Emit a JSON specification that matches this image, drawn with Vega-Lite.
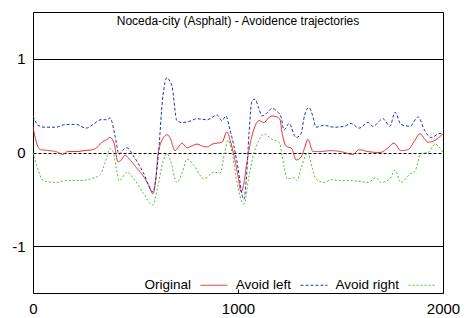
{
  "$schema": "https://vega.github.io/schema/vega-lite/v6.json",
  "width": 410,
  "height": 281,
  "autosize": "none",
  "padding": {"left": 33, "top": 12, "right": 23, "bottom": 25},
  "layer": [
    {
      "data": {"values": [
        {"s":"Original","x":0,"y":0.27},{"s":"Original","x":12,"y":0.15},{"s":"Original","x":24,"y":0.06},{"s":"Original","x":40,"y":0.03},{"s":"Original","x":80,"y":0.02},{"s":"Original","x":112,"y":0.01},{"s":"Original","x":146,"y":-0.02},{"s":"Original","x":170,"y":0.01},{"s":"Original","x":210,"y":0.01},{"s":"Original","x":250,"y":0.02},{"s":"Original","x":290,"y":0.03},{"s":"Original","x":315,"y":0.06},{"s":"Original","x":332,"y":0.1},{"s":"Original","x":361,"y":0.14},{"s":"Original","x":376,"y":0.16},{"s":"Original","x":395,"y":0.1},{"s":"Original","x":415,"y":-0.1},{"s":"Original","x":430,"y":-0.08},{"s":"Original","x":449,"y":-0.03},{"s":"Original","x":470,"y":-0.07},{"s":"Original","x":500,"y":-0.15},{"s":"Original","x":537,"y":-0.25},{"s":"Original","x":565,"y":-0.35},{"s":"Original","x":585,"y":-0.44},{"s":"Original","x":598,"y":-0.3},{"s":"Original","x":610,"y":-0.02},{"s":"Original","x":634,"y":0.15},{"s":"Original","x":654,"y":0.19},{"s":"Original","x":668,"y":0.16},{"s":"Original","x":693,"y":0.02},{"s":"Original","x":710,"y":0.06},{"s":"Original","x":727,"y":0.1},{"s":"Original","x":751,"y":0.05},{"s":"Original","x":775,"y":0.07},{"s":"Original","x":800,"y":0.09},{"s":"Original","x":825,"y":0.07},{"s":"Original","x":849,"y":0.06},{"s":"Original","x":875,"y":0.09},{"s":"Original","x":898,"y":0.1},{"s":"Original","x":922,"y":0.11},{"s":"Original","x":946,"y":0.22},{"s":"Original","x":963,"y":0.12},{"s":"Original","x":980,"y":-0.03},{"s":"Original","x":1000,"y":-0.25},{"s":"Original","x":1015,"y":-0.42},{"s":"Original","x":1024,"y":-0.38},{"s":"Original","x":1044,"y":-0.1},{"s":"Original","x":1060,"y":0.1},{"s":"Original","x":1078,"y":0.25},{"s":"Original","x":1102,"y":0.34},{"s":"Original","x":1127,"y":0.32},{"s":"Original","x":1145,"y":0.36},{"s":"Original","x":1166,"y":0.39},{"s":"Original","x":1190,"y":0.38},{"s":"Original","x":1205,"y":0.35},{"s":"Original","x":1215,"y":0.21},{"s":"Original","x":1234,"y":0.07},{"s":"Original","x":1263,"y":0.04},{"s":"Original","x":1283,"y":-0.08},{"s":"Original","x":1307,"y":-0.05},{"s":"Original","x":1325,"y":0.05},{"s":"Original","x":1341,"y":0.14},{"s":"Original","x":1366,"y":0.01},{"s":"Original","x":1400,"y":0.01},{"s":"Original","x":1454,"y":0.02},{"s":"Original","x":1500,"y":0.01},{"s":"Original","x":1561,"y":-0.02},{"s":"Original","x":1590,"y":0.03},{"s":"Original","x":1634,"y":0.01},{"s":"Original","x":1693,"y":0.0},{"s":"Original","x":1732,"y":0.05},{"s":"Original","x":1761,"y":0.1},{"s":"Original","x":1795,"y":0.02},{"s":"Original","x":1829,"y":0.03},{"s":"Original","x":1860,"y":0.12},{"s":"Original","x":1888,"y":0.2},{"s":"Original","x":1912,"y":0.14},{"s":"Original","x":1927,"y":0.11},{"s":"Original","x":1961,"y":0.13},{"s":"Original","x":1995,"y":0.19},{"s":"Original","x":2000,"y":0.2},
        {"s":"Avoid left","x":0,"y":0.39},{"s":"Avoid left","x":12,"y":0.33},{"s":"Avoid left","x":24,"y":0.29},{"s":"Avoid left","x":60,"y":0.27},{"s":"Avoid left","x":112,"y":0.27},{"s":"Avoid left","x":161,"y":0.3},{"s":"Avoid left","x":210,"y":0.3},{"s":"Avoid left","x":259,"y":0.26},{"s":"Avoid left","x":293,"y":0.3},{"s":"Avoid left","x":332,"y":0.35},{"s":"Avoid left","x":361,"y":0.35},{"s":"Avoid left","x":376,"y":0.37},{"s":"Avoid left","x":400,"y":0.18},{"s":"Avoid left","x":420,"y":-0.02},{"s":"Avoid left","x":440,"y":0.03},{"s":"Avoid left","x":459,"y":0.05},{"s":"Avoid left","x":488,"y":-0.03},{"s":"Avoid left","x":537,"y":-0.21},{"s":"Avoid left","x":585,"y":-0.42},{"s":"Avoid left","x":610,"y":-0.06},{"s":"Avoid left","x":634,"y":0.61},{"s":"Avoid left","x":654,"y":0.8},{"s":"Avoid left","x":668,"y":0.76},{"s":"Avoid left","x":678,"y":0.71},{"s":"Avoid left","x":702,"y":0.34},{"s":"Avoid left","x":727,"y":0.32},{"s":"Avoid left","x":760,"y":0.33},{"s":"Avoid left","x":800,"y":0.36},{"s":"Avoid left","x":849,"y":0.35},{"s":"Avoid left","x":898,"y":0.4},{"s":"Avoid left","x":922,"y":0.34},{"s":"Avoid left","x":941,"y":0.39},{"s":"Avoid left","x":960,"y":0.25},{"s":"Avoid left","x":980,"y":0.07},{"s":"Avoid left","x":995,"y":-0.1},{"s":"Avoid left","x":1029,"y":-0.5},{"s":"Avoid left","x":1040,"y":-0.3},{"s":"Avoid left","x":1054,"y":0.21},{"s":"Avoid left","x":1068,"y":0.55},{"s":"Avoid left","x":1083,"y":0.57},{"s":"Avoid left","x":1100,"y":0.48},{"s":"Avoid left","x":1117,"y":0.39},{"s":"Avoid left","x":1140,"y":0.42},{"s":"Avoid left","x":1166,"y":0.47},{"s":"Avoid left","x":1190,"y":0.44},{"s":"Avoid left","x":1210,"y":0.38},{"s":"Avoid left","x":1224,"y":0.24},{"s":"Avoid left","x":1249,"y":0.31},{"s":"Avoid left","x":1283,"y":0.16},{"s":"Avoid left","x":1307,"y":0.2},{"s":"Avoid left","x":1325,"y":0.4},{"s":"Avoid left","x":1346,"y":0.48},{"s":"Avoid left","x":1366,"y":0.38},{"s":"Avoid left","x":1380,"y":0.27},{"s":"Avoid left","x":1420,"y":0.29},{"s":"Avoid left","x":1468,"y":0.27},{"s":"Avoid left","x":1520,"y":0.28},{"s":"Avoid left","x":1551,"y":0.31},{"s":"Avoid left","x":1590,"y":0.26},{"s":"Avoid left","x":1634,"y":0.32},{"s":"Avoid left","x":1659,"y":0.28},{"s":"Avoid left","x":1707,"y":0.36},{"s":"Avoid left","x":1741,"y":0.28},{"s":"Avoid left","x":1766,"y":0.43},{"s":"Avoid left","x":1795,"y":0.3},{"s":"Avoid left","x":1839,"y":0.28},{"s":"Avoid left","x":1878,"y":0.38},{"s":"Avoid left","x":1912,"y":0.23},{"s":"Avoid left","x":1941,"y":0.16},{"s":"Avoid left","x":1980,"y":0.2},{"s":"Avoid left","x":2000,"y":0.21},
        {"s":"Avoid right","x":0,"y":0.0},{"s":"Avoid right","x":20,"y":-0.15},{"s":"Avoid right","x":49,"y":-0.3},{"s":"Avoid right","x":112,"y":-0.32},{"s":"Avoid right","x":161,"y":-0.3},{"s":"Avoid right","x":229,"y":-0.3},{"s":"Avoid right","x":283,"y":-0.28},{"s":"Avoid right","x":327,"y":-0.24},{"s":"Avoid right","x":350,"y":-0.12},{"s":"Avoid right","x":376,"y":0.04},{"s":"Avoid right","x":390,"y":0.01},{"s":"Avoid right","x":405,"y":-0.15},{"s":"Avoid right","x":420,"y":-0.3},{"s":"Avoid right","x":459,"y":-0.21},{"s":"Avoid right","x":488,"y":-0.27},{"s":"Avoid right","x":537,"y":-0.43},{"s":"Avoid right","x":585,"y":-0.56},{"s":"Avoid right","x":610,"y":-0.35},{"s":"Avoid right","x":634,"y":-0.1},{"s":"Avoid right","x":654,"y":-0.01},{"s":"Avoid right","x":668,"y":-0.07},{"s":"Avoid right","x":702,"y":-0.32},{"s":"Avoid right","x":730,"y":-0.2},{"s":"Avoid right","x":751,"y":-0.07},{"s":"Avoid right","x":785,"y":-0.14},{"s":"Avoid right","x":834,"y":-0.28},{"s":"Avoid right","x":883,"y":-0.21},{"s":"Avoid right","x":912,"y":-0.22},{"s":"Avoid right","x":935,"y":0.0},{"s":"Avoid right","x":951,"y":0.13},{"s":"Avoid right","x":975,"y":-0.05},{"s":"Avoid right","x":995,"y":-0.32},{"s":"Avoid right","x":1029,"y":-0.55},{"s":"Avoid right","x":1054,"y":-0.25},{"s":"Avoid right","x":1078,"y":0.0},{"s":"Avoid right","x":1102,"y":0.13},{"s":"Avoid right","x":1127,"y":0.2},{"s":"Avoid right","x":1166,"y":0.14},{"s":"Avoid right","x":1200,"y":0.11},{"s":"Avoid right","x":1224,"y":-0.14},{"s":"Avoid right","x":1239,"y":-0.28},{"s":"Avoid right","x":1273,"y":-0.27},{"s":"Avoid right","x":1288,"y":-0.3},{"s":"Avoid right","x":1307,"y":-0.17},{"s":"Avoid right","x":1341,"y":0.0},{"s":"Avoid right","x":1360,"y":-0.15},{"s":"Avoid right","x":1380,"y":-0.28},{"s":"Avoid right","x":1420,"y":-0.32},{"s":"Avoid right","x":1454,"y":-0.29},{"s":"Avoid right","x":1500,"y":-0.3},{"s":"Avoid right","x":1551,"y":-0.3},{"s":"Avoid right","x":1600,"y":-0.31},{"s":"Avoid right","x":1634,"y":-0.32},{"s":"Avoid right","x":1673,"y":-0.27},{"s":"Avoid right","x":1698,"y":-0.32},{"s":"Avoid right","x":1741,"y":-0.28},{"s":"Avoid right","x":1766,"y":-0.19},{"s":"Avoid right","x":1795,"y":-0.32},{"s":"Avoid right","x":1839,"y":-0.23},{"s":"Avoid right","x":1863,"y":-0.2},{"s":"Avoid right","x":1893,"y":-0.01},{"s":"Avoid right","x":1927,"y":0.0},{"s":"Avoid right","x":1961,"y":0.09},{"s":"Avoid right","x":1980,"y":0.06},{"s":"Avoid right","x":2000,"y":0.0}
      ]},
      "mark": {"type": "line", "interpolate": "monotone", "strokeWidth": 1, "clip": true},
      "encoding": {
        "x": {"field": "x", "type": "quantitative", "scale": {"domain": [0, 2000], "nice": false},
          "axis": {"values": [0, 1000, 2000], "labelExpr": "'' + datum.value", "title": null, "grid": false, "domain": false, "tickSize": -4, "tickColor": "black", "labelFont": "Liberation Sans", "labelFontSize": 15, "labelColor": "black", "labelPadding": 12, "labelFlush": false}},
        "y": {"field": "y", "type": "quantitative", "scale": {"domain": [-1.5, 1.5], "nice": false},
          "axis": {"values": [-1, 0, 1], "labelExpr": "'' + datum.value", "title": null, "ticks": false, "domain": false, "grid": true, "gridColor": "black", "gridOpacity": 1, "gridWidth": 1,
            "gridDash": {"condition": {"test": "datum.value === 0", "value": [3, 2]}, "value": []},
            "labelFont": "Liberation Sans", "labelFontSize": 15, "labelColor": "black", "labelPadding": 8}},
        "color": {"field": "s", "type": "nominal", "sort": ["Original", "Avoid left", "Avoid right"],
          "scale": {"domain": ["Original", "Avoid left", "Avoid right"], "range": ["#ee2222", "#2233aa", "#55bb33"]},
          "legend": {"title": null, "orient": "none", "legendX": 167, "legendY": 259, "direction": "horizontal", "symbolType": "stroke", "symbolSize": 729, "symbolStrokeWidth": 1, "labelAlign": "right", "labelOffset": -37, "labelFont": "Liberation Sans", "labelFontSize": 13.5, "labelColor": "black", "columnPadding": 5}},
        "strokeDash": {"field": "s", "type": "nominal", "sort": ["Original", "Avoid left", "Avoid right"],
          "scale": {"domain": ["Original", "Avoid left", "Avoid right"], "range": [[1, 0], [3, 2], [2, 2]]},
          "legend": {"title": null, "orient": "none", "legendX": 167, "legendY": 259, "direction": "horizontal", "symbolType": "stroke", "symbolSize": 729, "symbolStrokeWidth": 1, "labelAlign": "right", "labelOffset": -37, "labelFont": "Liberation Sans", "labelFontSize": 13.5, "labelColor": "black", "columnPadding": 5}}
      }
    },
    {
      "data": {"values": [{"label": "Noceda-city (Asphalt) - Avoidence trajectories"}]},
      "mark": {"type": "text", "font": "Liberation Sans", "fontSize": 12, "color": "black", "align": "center", "baseline": "alphabetic", "dy": 13},
      "encoding": {
        "x": {"datum": 1000, "type": "quantitative"},
        "y": {"datum": 1.5, "type": "quantitative"},
        "text": {"field": "label"}
      }
    }
  ],
  "config": {"view": {"stroke": "black", "strokeWidth": 1}, "font": "Liberation Sans"}
}
